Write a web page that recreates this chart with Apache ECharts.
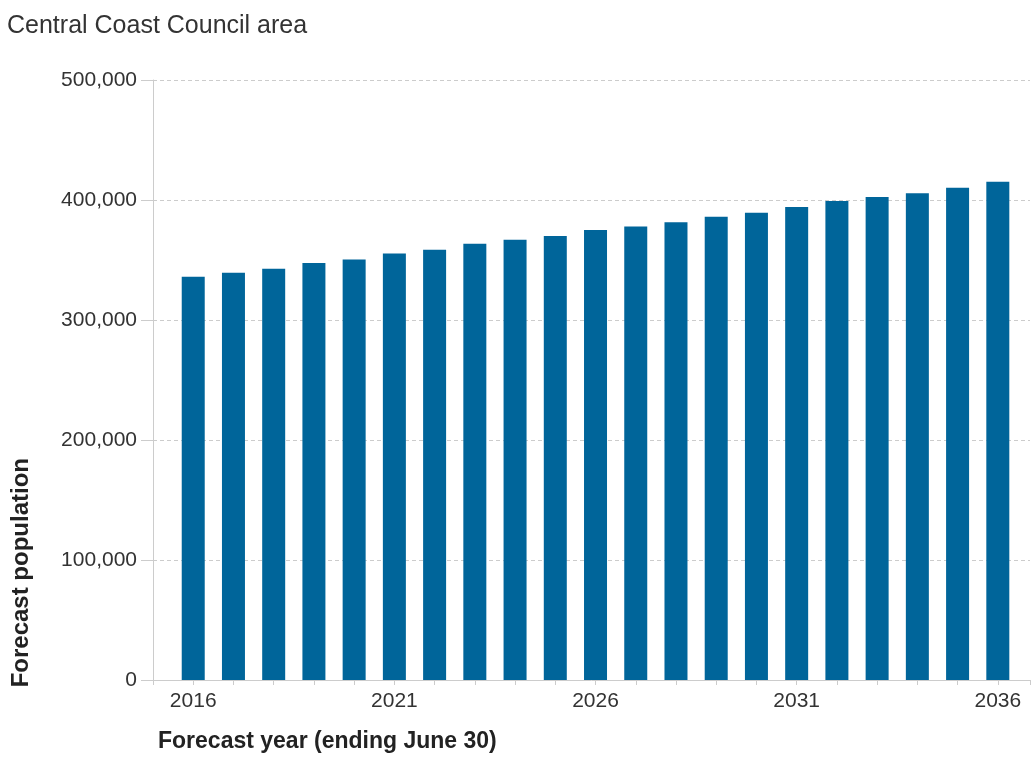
<!DOCTYPE html>
<html>
<head>
<meta charset="utf-8">
<script src="https://cdn.jsdelivr.net/npm/echarts@6/dist/echarts.min.js"></script>
<style>html,body{margin:0;padding:0;background:#fff}#c{width:1033px;height:760px}</style>
</head>
<body>
<div id="c"></div>
<script>
const titleText = 'Central Coast Council area';
const xAxisName = 'Forecast year (ending June 30)';
const yAxisName = 'Forecast population';
const years = [2016,2017,2018,2019,2020,2021,2022,2023,2024,2025,2026,2027,2028,2029,2030,2031,2032,2033,2034,2035,2036];
const population = [336100,339400,342800,347500,350500,355500,358600,363600,366900,370000,375000,378000,381400,386100,389400,394200,399200,402500,405600,410300,415300];
const labelYears = [2016,2021,2026,2031,2036];
const yTicks = [0,100000,200000,300000,400000,500000];

const chart = echarts.init(document.getElementById('c'), null, {renderer:'canvas'});
const font = 'Arial, "Liberation Sans", sans-serif';
chart.setOption({
  animation:false,
  backgroundColor:'#fff',
  title:{text:titleText,left:2,top:9,textStyle:{fontFamily:font,fontSize:25,fontWeight:'normal',color:'#333'}},
  grid:{left:153,right:3,top:80,bottom:80,containLabel:false},
  xAxis:{
    type:'value',min:2015,max:2036.8,interval:1,
    name:xAxisName,nameLocation:'start',nameGap:0,
    nameTextStyle:{fontFamily:font,fontSize:23,fontWeight:'bold',color:'#222',align:'left',verticalAlign:'top',padding:[50,0,0,5]},
    axisLine:{show:true,lineStyle:{color:'#ccc'}},
    axisTick:{show:true,length:5,lineStyle:{color:'#ccc'}},
    splitLine:{show:false},
    axisLabel:{fontFamily:font,fontSize:21,color:'#333',margin:11,
      formatter:function(v){return labelYears.indexOf(Math.round(v*1000)/1000)>=0?String(v):'';}}
  },
  yAxis:{
    type:'value',min:yTicks[0],max:yTicks[yTicks.length-1],interval:100000,
    axisLine:{show:true,lineStyle:{color:'#ccc'}},
    axisTick:{show:true,length:12,lineStyle:{color:'#ccc'}},
    splitLine:{show:true,lineStyle:{color:'#ccc',type:[4,3]}},
    axisLabel:{fontFamily:font,fontSize:21,color:'#333',margin:16,
      formatter:function(v){return v.toLocaleString('en-US');}}
  },
  graphic:[{type:'text',left:9,top:458,rotation:Math.PI/2,
    style:{text:yAxisName,font:'bold 24px '+font,fill:'#222'}}],
  series:[{type:'bar',barWidth:23,itemStyle:{color:'#00659a'},
    data:years.map((y,i)=>[y,population[i]])}]
});
</script>
</body>
</html>
